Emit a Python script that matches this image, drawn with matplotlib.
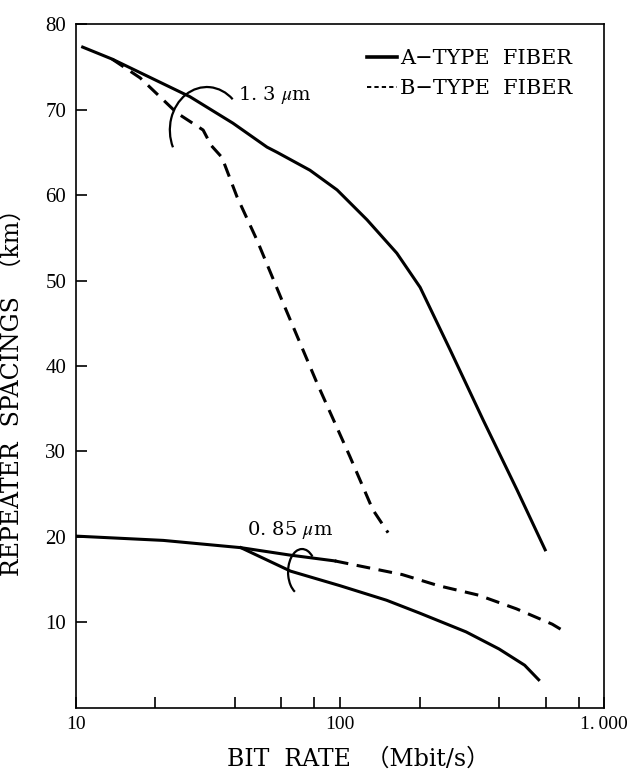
import matplotlib
matplotlib.use("Agg")
import matplotlib.pyplot as plt
from matplotlib.patches import Arc
from matplotlib.lines import Line2D
from matplotlib.transforms import ScaledTranslation

plt.rcParams['font.family'] = ['DejaVu Serif', 'Noto Sans CJK JP']
plt.rcParams['mathtext.fontset'] = 'stix'

# 1.3 um, A-type (solid)
a13_x = [10.6, 13.7, 27.0, 39.3, 52.9, 57.7, 76.9, 97.4, 126.5, 164, 201, 261, 348, 468, 598]
a13_y = [77.3, 75.9, 71.5, 68.4, 65.6, 65.0, 62.9, 60.6, 57.1, 53.2, 49.2, 41.9, 33.7, 25.5, 18.5]
# 1.3 um, B-type (dashed)
b13_x = [13.7, 17.5, 24.1, 30.3, 32.5, 35.7, 40.7, 48.5, 60.8, 81.8, 109, 133, 152]
b13_y = [75.9, 73.7, 69.6, 67.6, 65.8, 64.4, 59.8, 54.7, 47.4, 38.0, 29.4, 23.2, 20.5]
# 0.85 um, common solid part
c85_x = [10, 21.4, 42.1, 64.0, 95.5]
c85_y = [20.1, 19.6, 18.75, 17.9, 17.2]
# 0.85 um, B-type (dashed)
b85_x = [95.5, 172, 236, 334, 465, 636, 694]
b85_y = [17.2, 15.6, 14.3, 13.2, 11.6, 9.8, 9.1]
# 0.85 um, A-type (solid)
a85_x = [42.1, 65, 100, 150, 200, 300, 400, 500, 565]
a85_y = [18.75, 16.0, 14.3, 12.6, 11.1, 8.9, 6.9, 5.0, 3.3]

xticks = [10, 100, 1000]
xtick_labels = ["10", "100", "1.\u2009000"]
xminor = [20, 40, 60, 80, 200, 400, 600, 800]
yticks = [10, 20, 30, 40, 50, 60, 70, 80]

fig = plt.figure(figsize=(6.28, 7.75), dpi=100)
ax = fig.add_axes([0.121, 0.0865, 0.841, 0.8825])

lw = 2.2
dash = (0, (4.5, 2.8))
ax.plot(a13_x, a13_y, color='k', lw=lw)
ax.plot(b13_x, b13_y, color='k', lw=lw, ls=dash)
ax.plot(c85_x, c85_y, color='k', lw=lw)
ax.plot(b85_x, b85_y, color='k', lw=lw, ls=dash)
ax.plot(a85_x, a85_y, color='k', lw=lw)

ax.set_xscale('log')
ax.set_xlim(10, 1000)
ax.set_ylim(0, 80)
ax.set_xticks(xticks)
ax.set_xticklabels(xtick_labels)
ax.set_xticks(xminor, minor=True)
ax.set_yticks(yticks)
ax.tick_params(axis='both', which='both', direction='in', length=8, width=1.2,
               labelsize=14, color='k', labelfontfamily='Liberation Serif')
ax.tick_params(axis='x', which='major', pad=6)
ax.tick_params(axis='y', which='major', pad=7, labelsize=15)
for s in ax.spines.values():
    s.set_linewidth(1.2)

ax.set_xlabel("BIT  RATE  （Mbit/s）", fontsize=17)
ax.xaxis.set_label_coords(0.535, -0.058)
ax.set_ylabel("REPEATER  SPACINGS  （km）", fontsize=17)
ax.yaxis.set_label_coords(-0.098, 0.47)

# bracket arcs, sized in inches around a data point
arc13 = Arc((0, 0), 0.74, 0.86, theta1=50, theta2=207, color='k', lw=1.6,
            transform=fig.dpi_scale_trans + ScaledTranslation(31.3, 67.6, ax.transData))
arc85 = Arc((0, 0), 0.28, 0.46, theta1=56, theta2=250, color='k', lw=1.6,
            transform=fig.dpi_scale_trans + ScaledTranslation(71.8, 15.9, ax.transData))
ax.add_patch(arc13)
ax.add_patch(arc85)

ax.text(41.1, 71.7, r"1. 3 $\mu$m", fontsize=14, va='center', ha='left')
ax.text(44.4, 20.8, r"0. 85 $\mu$m", fontsize=14, va='center', ha='left')

handles = [Line2D([], [], color='k', lw=2.6),
           Line2D([], [], color='k', lw=1.4, ls=(0, (2.2, 1.6)))]
ax.legend(handles, ["A−TYPE  FIBER", "B−TYPE  FIBER"], loc='upper right',
          bbox_to_anchor=(0.955, 0.975), frameon=False, fontsize=15,
          handlelength=1.4, handletextpad=0.15, labelspacing=0.5,
          borderaxespad=0)

fig.savefig("out.png", dpi=100)
